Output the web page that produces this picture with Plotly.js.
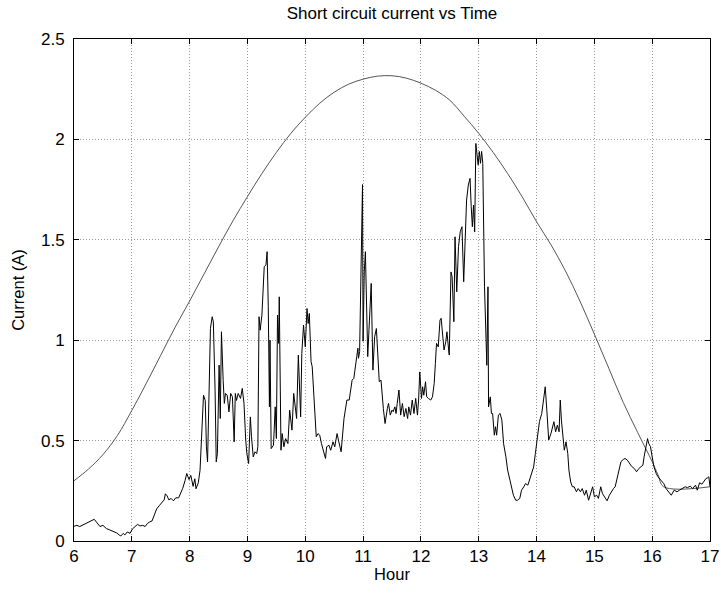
<!DOCTYPE html>
<html>
<head>
<meta charset="utf-8">
<script src="https://cdn.plot.ly/plotly-3.0.1.min.js"></script>
<style>
  html, body { margin: 0; padding: 0; background: #fff; }
  #chart { width: 721px; height: 596px; }
</style>
</head>
<body>
<div id="chart"></div>
<script>
// Measured short-circuit current over the day (hours, amps)
const measuredHour = [
  6.00, 6.05, 6.10, 6.16, 6.22, 6.27, 6.31, 6.35, 6.40, 6.45, 6.50, 6.56, 6.62, 6.68, 6.74, 6.78, 6.81, 6.85, 6.88, 6.92, 6.97,
  7.01, 7.05, 7.10, 7.14, 7.19, 7.23, 7.27, 7.31, 7.35, 7.39, 7.43, 7.48, 7.52, 7.56, 7.58, 7.61, 7.64, 7.68, 7.72, 7.76, 7.81, 7.85, 7.88, 7.92, 7.95, 7.99,
  8.02, 8.06, 8.09, 8.11, 8.15, 8.18, 8.21, 8.24, 8.27, 8.29, 8.31, 8.33, 8.36, 8.39, 8.41, 8.44, 8.46, 8.48, 8.51, 8.53, 8.55, 8.58, 8.60, 8.62, 8.65, 8.68,
  8.71, 8.74, 8.77, 8.79, 8.81, 8.84, 8.88, 8.91, 8.94, 8.97, 8.99,
  9.02, 9.05, 9.07, 9.10, 9.13, 9.16, 9.18, 9.20, 9.22, 9.25, 9.29, 9.32, 9.34, 9.36, 9.38, 9.39, 9.41, 9.45, 9.48, 9.50, 9.52, 9.54, 9.55, 9.58, 9.60,
  9.63, 9.66, 9.70, 9.73, 9.77, 9.80, 9.85, 9.88, 9.92, 9.94, 9.97,
  10.00, 10.03, 10.05, 10.07, 10.10, 10.12, 10.15, 10.17, 10.19, 10.22, 10.25, 10.28, 10.32, 10.35, 10.37, 10.41, 10.44, 10.48, 10.51, 10.55, 10.58,
  10.62, 10.67, 10.70, 10.72, 10.76, 10.78, 10.81, 10.84, 10.86, 10.89, 10.91, 10.92, 10.94, 10.97, 10.99,
  11.00, 11.02, 11.04, 11.08, 11.11, 11.14, 11.17, 11.20, 11.23, 11.26, 11.28, 11.31, 11.33, 11.35, 11.38, 11.40, 11.42, 11.44, 11.47, 11.50,
  11.52, 11.55, 11.57, 11.59, 11.62, 11.65, 11.68, 11.71, 11.74, 11.77, 11.79, 11.82, 11.85, 11.88, 11.91, 11.94, 11.96, 11.98,
  12.01, 12.03, 12.05, 12.08, 12.10, 12.13, 12.17, 12.20, 12.23, 12.25, 12.27, 12.30, 12.33, 12.35, 12.38, 12.40, 12.43, 12.45, 12.48, 12.49,
  12.52, 12.54, 12.57, 12.59, 12.62, 12.65, 12.68, 12.71, 12.74, 12.77, 12.79, 12.82, 12.85, 12.87, 12.89, 12.91, 12.93, 12.95, 12.97, 12.99,
  13.01, 13.03, 13.05, 13.07, 13.10, 13.13, 13.14, 13.16, 13.17, 13.20, 13.22, 13.24, 13.27, 13.29, 13.31, 13.34, 13.37, 13.40, 13.43, 13.47,
  13.50, 13.54, 13.57, 13.60, 13.64, 13.67, 13.71, 13.74, 13.78, 13.81, 13.85, 13.88, 13.91, 13.95, 13.98,
  14.02, 14.05, 14.09, 14.15, 14.18, 14.21, 14.25, 14.30, 14.33, 14.36, 14.39, 14.41, 14.43, 14.46, 14.48, 14.51, 14.54, 14.56, 14.59, 14.62,
  14.65, 14.69, 14.72, 14.76, 14.79, 14.83, 14.86, 14.90, 14.93, 14.97,
  15.00, 15.04, 15.07, 15.11, 15.14, 15.17, 15.22, 15.26, 15.29, 15.33, 15.36, 15.39, 15.43, 15.46, 15.50, 15.53, 15.57, 15.60, 15.64, 15.69,
  15.73, 15.77, 15.80, 15.84, 15.86, 15.90, 15.92, 15.94, 15.97,
  16.00, 16.03, 16.07, 16.10, 16.15, 16.20, 16.24, 16.29, 16.33, 16.38, 16.43, 16.47, 16.52, 16.57, 16.61, 16.66, 16.70, 16.75, 16.78, 16.82,
  16.86, 16.89, 16.93, 16.96, 16.98, 17.00
];
const measuredCurrent = [
  0.073, 0.078, 0.072, 0.080, 0.088, 0.095, 0.100, 0.108, 0.090, 0.072, 0.078, 0.062, 0.055, 0.048, 0.040, 0.030, 0.025, 0.038, 0.030, 0.045, 0.038,
  0.060, 0.070, 0.083, 0.075, 0.078, 0.072, 0.087, 0.095, 0.100, 0.130, 0.160, 0.178, 0.193, 0.205, 0.235, 0.225, 0.205, 0.212, 0.200, 0.215, 0.215, 0.240, 0.262, 0.300, 0.336, 0.306,
  0.327, 0.272, 0.310, 0.260, 0.290, 0.352, 0.569, 0.726, 0.700, 0.469, 0.394, 0.668, 1.059, 1.117, 1.092, 0.751, 0.394, 0.435, 0.876, 0.610, 1.042, 0.800, 0.685, 0.735, 0.726, 0.643,
  0.735, 0.718, 0.494, 0.735, 0.700, 0.735, 0.710, 0.760, 0.685, 0.502, 0.435,
  0.386, 0.618, 0.519, 0.419, 0.444, 0.435, 0.469, 1.117, 1.050, 1.125, 1.366, 1.375, 1.441, 1.167, 0.668, 1.000, 0.460, 0.477, 0.668, 0.510, 1.125, 0.984, 1.216, 0.452, 0.535,
  0.469, 0.510, 0.485, 0.652, 0.552, 0.735, 0.610, 0.926, 0.618, 0.934, 1.075,
  0.967, 1.158, 1.083, 1.133, 0.893, 0.868, 0.718, 0.643, 0.519, 0.535, 0.527, 0.485, 0.436, 0.411, 0.469, 0.477, 0.452, 0.494, 0.469, 0.535, 0.494,
  0.444, 0.610, 0.668, 0.702, 0.702, 0.752, 0.801, 0.810, 0.868, 0.918, 0.960, 0.910, 0.943, 1.500, 1.775,
  0.995, 1.340, 1.441, 0.918, 1.100, 1.283, 0.851, 1.017, 1.058, 0.876, 0.793, 0.801, 0.718, 0.660, 0.585, 0.635, 0.660, 0.685, 0.627, 0.652,
  0.644, 0.668, 0.635, 0.685, 0.752, 0.627, 0.685, 0.619, 0.660, 0.610, 0.668, 0.627, 0.702, 0.635, 0.710, 0.627, 0.702, 0.842,
  0.710, 0.768, 0.726, 0.793, 0.718, 0.710, 0.702, 0.718, 0.785, 0.884, 0.984, 0.967, 1.100, 1.109, 1.017, 0.951, 0.992, 1.042, 0.951, 0.926,
  1.340, 1.316, 1.092, 1.515, 1.241, 1.466, 1.540, 1.565, 1.291, 1.598, 1.698, 1.773, 1.806, 1.665, 1.565, 1.673, 1.540, 1.980, 1.931, 1.873,
  1.940, 1.881, 1.940, 1.881, 1.266, 1.000, 0.875, 1.266, 0.668, 0.718, 0.635, 0.635, 0.527, 0.569, 0.527, 0.627, 0.635, 0.602, 0.485, 0.419,
  0.353, 0.303, 0.270, 0.228, 0.203, 0.203, 0.212, 0.253, 0.270, 0.286, 0.278, 0.303, 0.336, 0.369, 0.436,
  0.536, 0.595, 0.635, 0.768, 0.643, 0.503, 0.536, 0.594, 0.544, 0.577, 0.544, 0.702, 0.602, 0.494, 0.452, 0.494, 0.436, 0.353, 0.294, 0.270,
  0.270, 0.245, 0.261, 0.245, 0.261, 0.228, 0.253, 0.203, 0.236, 0.270,
  0.220, 0.228, 0.212, 0.270, 0.236, 0.220, 0.200, 0.228, 0.245, 0.261, 0.270, 0.311, 0.353, 0.395, 0.406, 0.411, 0.403, 0.390, 0.373, 0.361,
  0.345, 0.361, 0.370, 0.378, 0.419, 0.478, 0.510, 0.486, 0.470,
  0.419, 0.370, 0.336, 0.320, 0.303, 0.286, 0.261, 0.245, 0.228, 0.253, 0.245, 0.253, 0.261, 0.270, 0.266, 0.273, 0.261, 0.278, 0.253, 0.290,
  0.283, 0.294, 0.311, 0.315, 0.320, 0.270
];

// Clear-sky reference current (hours, amps)
const clearSkyHour = [
  6.00, 6.25, 6.50, 6.75, 7.00, 7.25, 7.50, 7.75, 8.00, 8.25, 8.50, 8.75, 9.00, 9.25, 9.50, 9.75,
  10.00, 10.25, 10.50, 10.75, 11.00, 11.25, 11.50, 11.75, 12.00, 12.25, 12.50, 12.75, 13.00, 13.25, 13.50, 13.75,
  14.00, 14.25, 14.50, 14.75, 15.00, 15.25, 15.50, 15.75, 16.00, 16.10, 16.20, 17.00
];
const clearSkyCurrent = [
  0.300, 0.358, 0.430, 0.525, 0.650, 0.785, 0.925, 1.065, 1.195, 1.330, 1.465, 1.595, 1.715, 1.830, 1.935, 2.030,
  2.110, 2.180, 2.235, 2.275, 2.300, 2.315, 2.317, 2.305, 2.280, 2.245, 2.195, 2.115, 2.030, 1.935, 1.830, 1.715,
  1.590, 1.475, 1.345, 1.195, 1.030, 0.860, 0.690, 0.540, 0.395, 0.330, 0.270, 0.270
];

const xTicks = [6, 7, 8, 9, 10, 11, 12, 13, 14, 15, 16, 17];
const yTicks = [0, 0.5, 1, 1.5, 2, 2.5];

const FONT = 'Liberation Sans, Arial, Helvetica, sans-serif';

const traces = [
  {
    x: clearSkyHour, y: clearSkyCurrent,
    type: 'scatter', mode: 'lines',
    line: { color: '#555555', width: 1, shape: 'spline', smoothing: 1 },
    hoverinfo: 'skip', showlegend: false
  },
  {
    x: measuredHour, y: measuredCurrent,
    type: 'scatter', mode: 'lines',
    line: { color: '#000000', width: 1 },
    showlegend: false
  }
];

const axisCommon = {
  showline: true, linecolor: '#000', linewidth: 1, mirror: 'ticks',
  ticks: 'inside', ticklen: 5, tickcolor: '#000', tickwidth: 1,
  showgrid: true, gridcolor: '#9a9a9a', griddash: '1px,2px', gridwidth: 1,
  zeroline: false,
  tickfont: { family: FONT, size: 17, color: '#000' }
};

const layout = {
  width: 721, height: 596,
  margin: { l: 74, r: 11, t: 39, b: 55 },
  paper_bgcolor: '#fff', plot_bgcolor: '#fff',
  title: {
    text: 'Short circuit current vs Time',
    font: { family: FONT, size: 17, color: '#000' },
    x: 0.5, xref: 'paper', y: 1 - 13 / 596, yanchor: 'middle'
  },
  xaxis: Object.assign({}, axisCommon, {
    range: [6, 17], tickvals: xTicks,
    title: { text: 'Hour', font: { family: FONT, size: 16.5, color: '#000' }, standoff: 3 }
  }),
  yaxis: Object.assign({}, axisCommon, {
    range: [0, 2.5], tickvals: yTicks, ticklabelstandoff: 5,
    title: { text: 'Current (A)', font: { family: FONT, size: 16.5, color: '#000' }, standoff: 12 }
  })
};

Plotly.newPlot('chart', traces, layout, { displayModeBar: false, staticPlot: true });
</script>
</body>
</html>
